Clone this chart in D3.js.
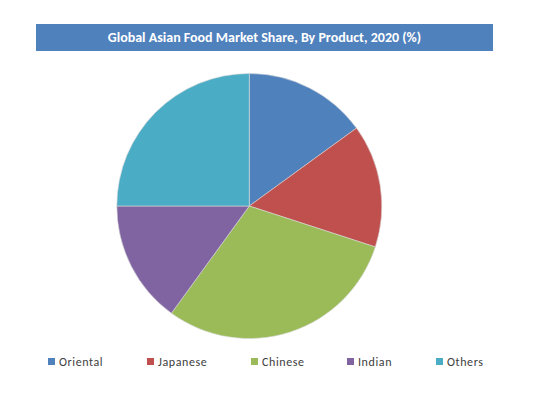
<!DOCTYPE html>
<html><head><meta charset="utf-8">
<script src="https://cdn.jsdelivr.net/npm/d3@7"></script>
<style>body{margin:0;background:#fff}svg{display:block}</style>
</head><body>
<svg id="c" width="538" height="402"></svg>
<script>
const categories = ["Oriental", "Japanese", "Chinese", "Indian", "Others"];
const values = [15, 15, 30, 15, 25];
const colors = ["#4F81BD", "#C0504D", "#9BBB59", "#8064A2", "#4BACC6"];
const title = "Global Asian Food Market Share, By Product, 2020 (%)";

const svg = d3.select("#c");
svg.append("rect").attr("x", 36).attr("y", 24).attr("width", 457).attr("height", 27).attr("fill", "#4F81BD");
svg.append("text").attr("x", 264.5).attr("y", 37).attr("text-anchor", "middle").attr("dominant-baseline", "central")
  .attr("fill", "#fff").attr("font-family", "Carlito, 'Liberation Sans', sans-serif").attr("font-weight", "bold")
  .attr("font-size", 14).text(title);

const data = categories.map((c, i) => ({c, v: values[i], col: colors[i]}));
const pie = d3.pie().value(d => d.v).sort(null);
const arc = d3.arc().innerRadius(0).outerRadius(132.5);
const g = svg.append("g").attr("transform", "translate(249.3,206)");
g.selectAll("path").data(pie(data)).join("path").attr("d", arc)
  .attr("fill", d => d.data.col).attr("stroke", "#d8d8d8").attr("stroke-width", 0.6);

const legX = [48, 147, 251, 347, 436];
const lg = svg.append("g");
data.forEach((d, i) => {
  lg.append("rect").attr("x", legX[i]).attr("y", 358).attr("width", 7).attr("height", 7).attr("fill", d.col);
  lg.append("text").attr("x", legX[i] + 11).attr("y", 362).attr("dominant-baseline", "central")
    .attr("font-family", "Carlito, 'Liberation Sans', sans-serif").attr("font-size", 12)
    .attr("letter-spacing", 0.6).attr("fill", "#404040").text(d.c);
});
</script>
</body></html>
